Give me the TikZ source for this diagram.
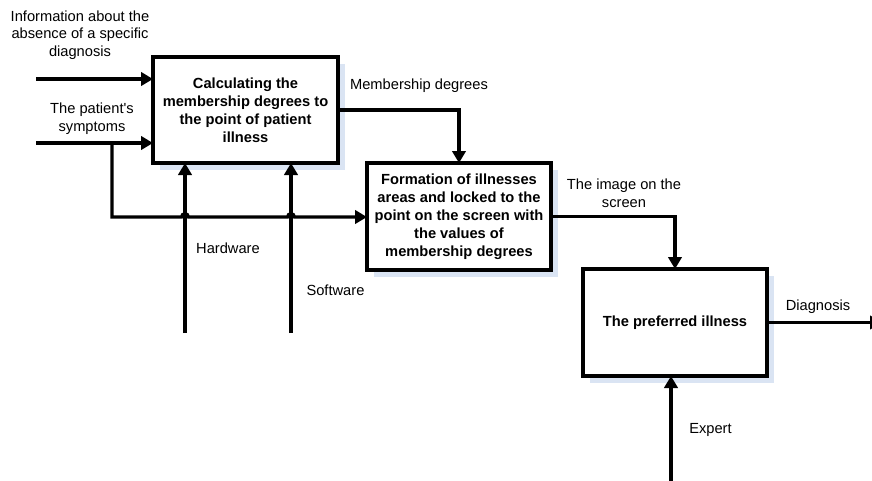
\documentclass[tikz,border=0pt]{standalone}
\usepackage{fontspec}
\setmainfont{Liberation Sans}
\usetikzlibrary{arrows.meta,shadows}
\definecolor{shadowblue}{RGB}{218,228,243}
\begin{document}
\begin{tikzpicture}[x=0.75pt,y=-0.75pt,
  proc/.style={draw=black,line width=2.5pt,fill=white,inner sep=1pt,outer sep=0pt,
    align=center,font=\fontsize{11}{13.5}\selectfont\bfseries,
    drop shadow={shadow xshift=5pt,shadow yshift=-5pt,fill=shadowblue,opacity=1}},
  lbl/.style={align=center,inner sep=0pt,font=\fontsize{11}{13.2}\selectfont},
  flow/.style={line width=2.3pt,-{Triangle[length=9pt,width=10pt]}},
  plain/.style={line width=2.3pt}]
\useasboundingbox (0,0) rectangle (872,480);
\clip (0,0) rectangle (872,480);
\node[proc,minimum width=138.75pt,minimum height=79.5pt] (b1) at (245.5,110)
  {Calculating the\\membership degrees to\\the point of patient\\illness};
\node[proc,minimum width=138pt,minimum height=80.25pt] (b2) at (459,216.5)
  {Formation of illnesses\\areas and locked to the\\point on the screen with\\the values of\\membership degrees};
\node[proc,minimum width=138pt,minimum height=80.25pt] (b3) at (675,322.5)
  {The preferred illness};
% inputs
\coordinate (i1) at (36,79);
\coordinate (i2) at (36,143);
\coordinate (br) at (112,143);
\coordinate (br2) at (112,217);
\draw[flow] (i1) -- (i1 -| b1.west);
\draw[flow] (i2) -- (i2 -| b1.west);
% mechanisms
\coordinate (m1) at (185,333);
\coordinate (m2) at (291,333);
\draw[flow] (m1) -- (m1 |- b1.south);
\draw[flow] (m2) -- (m2 |- b1.south);
% branch with jumps
\coordinate (j1) at (181.5,217);
\coordinate (j2) at (287.5,217);
\draw[flow] (br) -- (br2) -- (j1) arc[start angle=180,end angle=0,radius=2.6pt]
  -- (j2) arc[start angle=180,end angle=0,radius=2.6pt] -- (br2 -| b2.west);
% outputs
\draw[flow] (b1.east) -| (b2.north);
\draw[flow] (b2.east) -| (b3.north);
\coordinate (dg) at (882,322.5);
\draw[flow] (b3.east) -- (dg);
\coordinate (ex) at (671,490);
\draw[flow] (ex) -- (ex |- b3.south);
% labels
\node[lbl] (l1) at (80,35) {Information about the\\absence of a specific\\diagnosis};
\node[lbl] (l2) at (92,119) {The patient\textquotesingle s\\symptoms};
\node[lbl] (l3) at (419,86) {Membership degrees};
\node[lbl] (l4) at (624,193.5) {The image on the\\screen};
\node[lbl] (l5) at (228,248) {Hardware};
\node[lbl] (l6) at (335.5,290) {Software};
\node[lbl] (l7) at (818,307) {Diagnosis};
\node[lbl] (l8) at (710.5,430) {Expert};
\end{tikzpicture}
\end{document}
